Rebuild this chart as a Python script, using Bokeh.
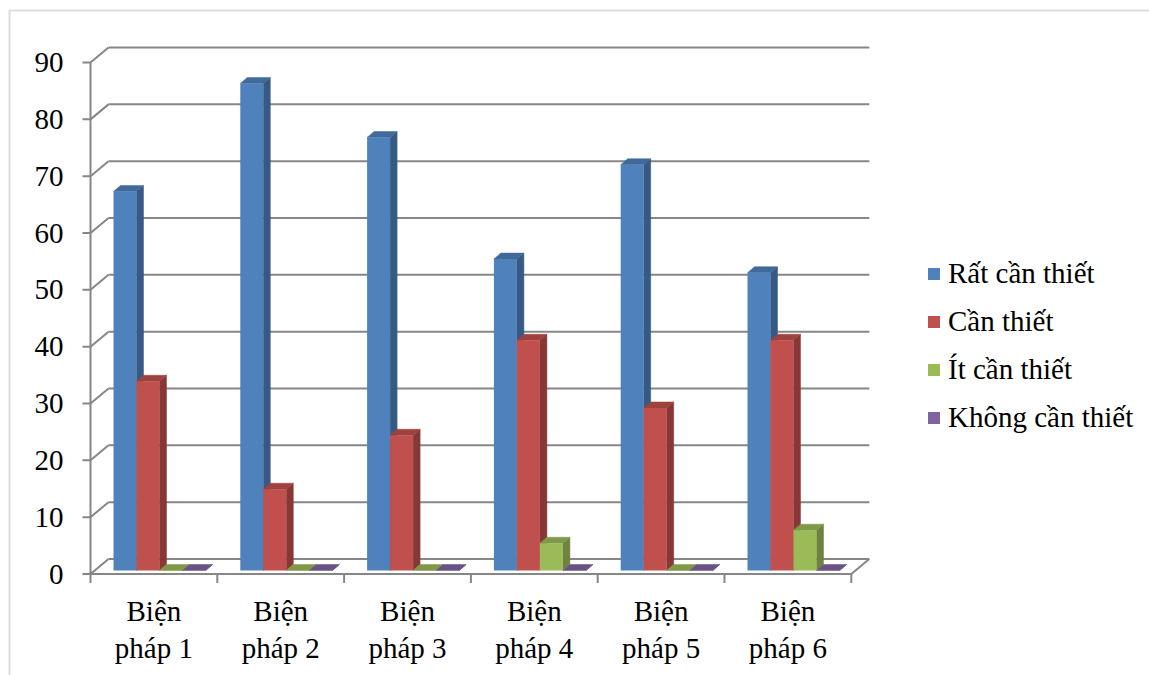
from bokeh.plotting import figure
from bokeh.models import Range1d, ColumnDataSource, Legend, LegendItem, BoxAnnotation
from bokeh.embed import file_html
from bokeh.resources import INLINE
from bokeh.core.properties import value

# ---------------- data ----------------
categories = ["Biện\npháp 1", "Biện\npháp 2", "Biện\npháp 3",
              "Biện\npháp 4", "Biện\npháp 5", "Biện\npháp 6"]
series_names = ["Rất cần thiết", "Cần thiết", "Ít cần thiết", "Không cần thiết"]
rat_can_thiet = [66.7, 85.7, 76.2, 54.8, 71.4, 52.4]
can_thiet = [33.3, 14.3, 23.8, 40.5, 28.6, 40.5]
it_can_thiet = [0, 0, 0, 4.8, 0, 7.1]
khong_can_thiet = [0, 0, 0, 0, 0, 0]
y_ticks = [0, 10, 20, 30, 40, 50, 60, 70, 80, 90]

series_values = [rat_can_thiet, can_thiet, it_can_thiet, khong_can_thiet]
front_colors = ["#4F81BD", "#C0504D", "#9BBB59", "#8064A2"]
side_colors = ["#375A84", "#863836", "#6D833E", "#5A4671"]
top_colors = ["#416A9B", "#9D423F", "#7F9949", "#695285"]

# ---------------- layout (pixels) ----------------
W, H = 1149, 675
AX_X = 90          # front value axis, px from left
AX_Y0 = 573.5      # value 0, px from top
PX_PER_UNIT = 5.683
PX_PER_CAT = 126.8
FONT = "'Liberation Serif', 'Times New Roman', serif"
FONT_SIZE = "29px"
GRID = "#868686"


def dx(px):
    return px / PX_PER_CAT


def dy(px):
    return px / PX_PER_UNIT


def px2x(px):
    return (px - AX_X) / PX_PER_CAT


def px2y(py):
    return (AX_Y0 - py) / PX_PER_UNIT


n = len(categories)
ymax = y_ticks[-1]

p = figure(width=W, height=H, output_backend="svg", toolbar_location=None,
           x_range=Range1d(px2x(0), px2x(W)), y_range=Range1d(px2y(H), px2y(0)),
           x_axis_location=None, y_axis_location=None, min_border=0,
           background_fill_color="white", border_fill_color="white")
p.grid.visible = False
p.outline_line_color = None

# outer chart border (only top and left visible)
p.add_layout(BoxAnnotation(left=px2x(9), right=px2x(W + 50), top=px2y(10), bottom=px2y(H + 50),
                           fill_alpha=0, line_color="#8c8c8c", line_width=2))

# ---------------- 3D walls ----------------
WALL_DX, WALL_DY = dx(18), dy(15)
p.segment(x0=[0] * len(y_ticks), y0=y_ticks,
          x1=[WALL_DX] * len(y_ticks), y1=[t + WALL_DY for t in y_ticks],
          line_color=GRID, line_width=2)
p.segment(x0=[WALL_DX] * len(y_ticks), y0=[t + WALL_DY for t in y_ticks],
          x1=[n + WALL_DX] * len(y_ticks), y1=[t + WALL_DY for t in y_ticks],
          line_color=GRID, line_width=2)
p.segment(x0=[0, n], y0=[0, 0], x1=[n, n + WALL_DX], y1=[0, WALL_DY],
          line_color=GRID, line_width=2)
p.segment(x0=[0], y0=[0], x1=[0], y1=[ymax], line_color=GRID, line_width=2)
p.segment(x0=[0] * len(y_ticks), y0=y_ticks, x1=[-dx(8)] * len(y_ticks), y1=y_ticks,
          line_color=GRID, line_width=2)
p.segment(x0=list(range(n + 1)), y0=[0] * (n + 1), x1=list(range(n + 1)), y1=[-dy(9)] * (n + 1),
          line_color=GRID, line_width=2)

# ---------------- bars ----------------
GROUP_OFF = dx(23)
BAR_W = dx(23)
BAR_Y0 = dy(3.5)
SIDE_DX, SIDE_DY = dx(7), dy(6)

legend_items = []
for j, vals in enumerate(series_values):
    left = [i + GROUP_OFF + j * BAR_W for i in range(n)]
    right = [l + BAR_W for l in left]
    bottom = [BAR_Y0] * n
    top = [BAR_Y0 + v for v in vals]
    side_xs = [[r, r + SIDE_DX, r + SIDE_DX, r] for r in right]
    side_ys = [[b, b + SIDE_DY, t + SIDE_DY, t] for b, t in zip(bottom, top)]
    top_xs = [[l, l + SIDE_DX, r + SIDE_DX, r] for l, r in zip(left, right)]
    top_ys = [[t, t + SIDE_DY, t + SIDE_DY, t] for t in top]
    p.patches(xs=side_xs, ys=side_ys, fill_color=side_colors[j], line_color=side_colors[j], line_width=0.5)
    p.patches(xs=top_xs, ys=top_ys, fill_color=top_colors[j], line_color=top_colors[j], line_width=0.5)
    src = ColumnDataSource(dict(left=left, right=right, bottom=bottom, top=top))
    r = p.quad(left="left", right="right", bottom="bottom", top="top", source=src,
               fill_color=front_colors[j], line_color=None)
    legend_items.append(LegendItem(label=series_names[j], renderers=[r]))

# ---------------- texts ----------------
p.text(x=[0] * len(y_ticks), y=y_ticks, text=[str(t) for t in y_ticks],
       x_offset=-27, text_align="right", text_baseline="middle",
       text_font=value(FONT), text_font_size=FONT_SIZE, text_color="black")
p.text(x=[i + 0.5 for i in range(n)], y=[0] * n, text=categories,
       y_offset=21, text_align="center", text_baseline="top", text_line_height=1.16,
       text_font=value(FONT), text_font_size=FONT_SIZE, text_color="black")

legend = Legend(items=legend_items, location=(926, 241), orientation="vertical",
                padding=0, margin=0, spacing=15, glyph_width=15, glyph_height=15,
                label_standoff=7, label_text_font=FONT, label_text_font_size=FONT_SIZE,
                label_text_color="black", border_line_color=None, background_fill_alpha=0)
p.add_layout(legend)

open("out.html", "w").write(file_html(p, INLINE))
